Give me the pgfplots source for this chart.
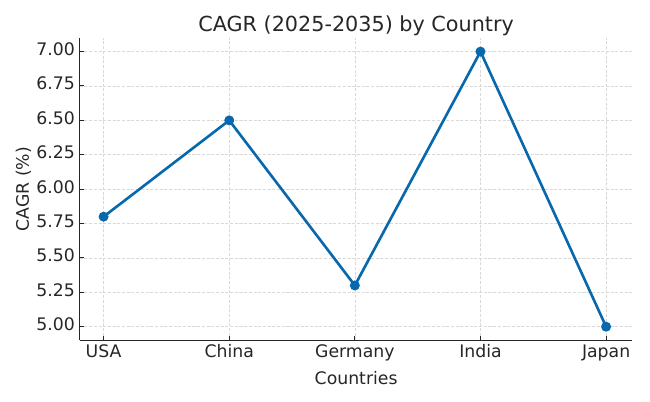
\documentclass[border={8pt 9pt 11pt 8pt}]{standalone}
\usepackage{pgfplots}
\pgfplotsset{compat=1.18}
\usepackage{fontspec}
\setmainfont{DejaVu Sans}
\definecolor{lineblue}{RGB}{8,104,172}
\definecolor{txt}{RGB}{38,38,38}
\begin{document}
\begin{tikzpicture}
\begin{axis}[
  scale only axis,
  width=400pt, height=219pt,
  xmin=-0.19, xmax=4.21,
  ymin=4.90, ymax=7.10,
  xtick={0,1,2,3,4},
  xticklabels={USA,China,Germany,India,Japan},
  ytick={5,5.25,5.5,5.75,6,6.25,6.5,6.75,7},
  yticklabel style={/pgf/number format/.cd,fixed,fixed zerofill,precision=2},
  /pgf/number format/assume math mode=true,
  typeset ticklabels with strut,
  tick label style={font=\fontsize{12.5}{14}\selectfont, text=txt},
  label style={font=\fontsize{12.5}{14}\selectfont, text=txt},
  title style={font=\fontsize{15}{17}\selectfont, text=txt, yshift=-8pt},
  title={CAGR (2025-2035) by Country},
  xlabel={Countries},
  ylabel={CAGR (\%)},
  axis x line*=bottom, axis y line*=left,
  tick align=inside,
  major tick length=3pt,
  xmajorgrids, ymajorgrids,
  grid style={dash pattern=on 2.2pt off 1.2pt, gray!30, line width=0.5pt},
  axis line style={line width=0.7pt, txt},
  tick style={txt, line width=0.7pt},
  xlabel style={yshift=1pt},
  ylabel style={yshift=-3pt},
  xticklabel style={yshift=1pt},
]
\addplot[lineblue, line width=1.9pt, mark=*, mark size=2.6pt] coordinates {
  (0,5.80) (1,6.50) (2,5.30) (3,7.00) (4,5.00)
};
\end{axis}
\end{tikzpicture}
\end{document}
